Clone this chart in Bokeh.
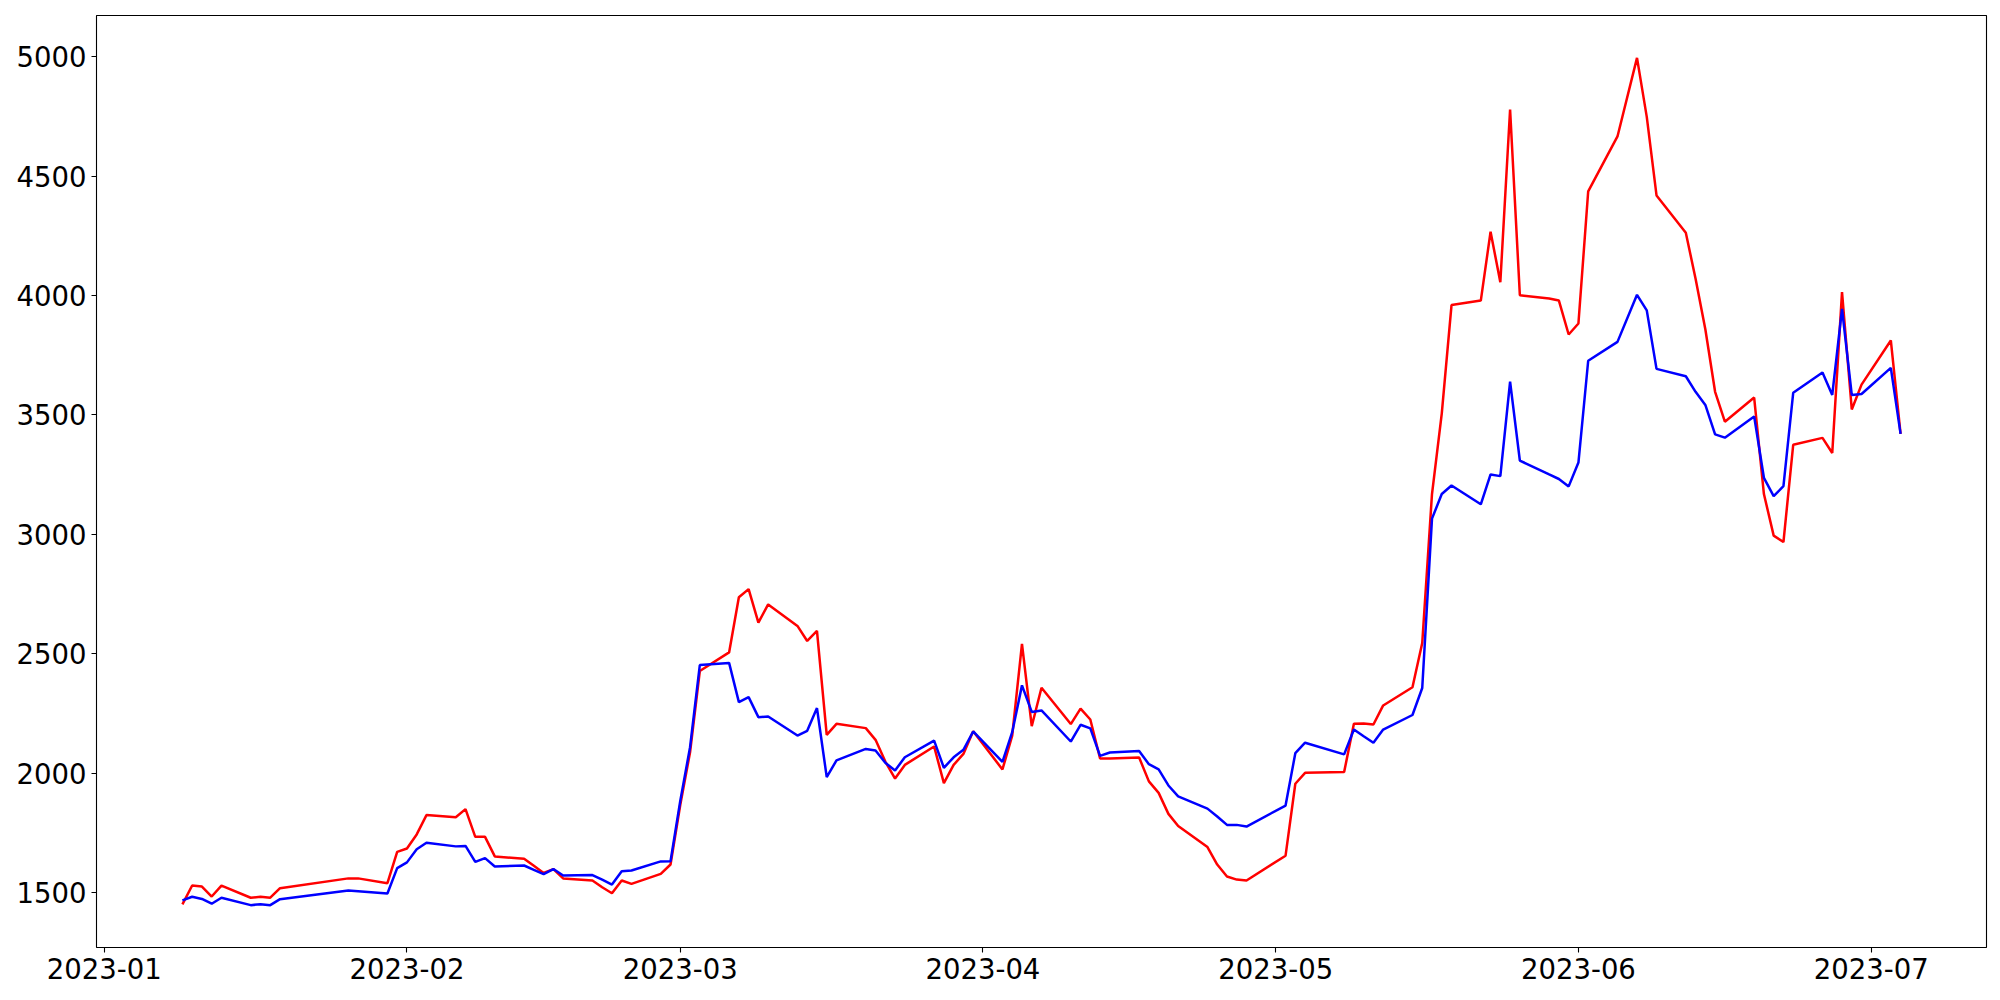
import pandas as pd
from bokeh.plotting import figure
from bokeh.models import ColumnDataSource, Range1d, FixedTicker, DatetimeTickFormatter
from bokeh.embed import file_html
from bokeh.resources import INLINE

# ---- data ----
dates = [
    # January
    "2023-01-09", "2023-01-10", "2023-01-11", "2023-01-12", "2023-01-13",
    "2023-01-16", "2023-01-17", "2023-01-18", "2023-01-19",
    "2023-01-26", "2023-01-27", "2023-01-30", "2023-01-31",
    # February
    "2023-02-01", "2023-02-02", "2023-02-03", "2023-02-06", "2023-02-07",
    "2023-02-08", "2023-02-09", "2023-02-10", "2023-02-13", "2023-02-14",
    "2023-02-15", "2023-02-16", "2023-02-17", "2023-02-20", "2023-02-21",
    "2023-02-22", "2023-02-23", "2023-02-24", "2023-02-27", "2023-02-28",
    # March
    "2023-03-01", "2023-03-02", "2023-03-03", "2023-03-06", "2023-03-07",
    "2023-03-08", "2023-03-09", "2023-03-10", "2023-03-13", "2023-03-14",
    "2023-03-15", "2023-03-16", "2023-03-17", "2023-03-20", "2023-03-21",
    "2023-03-22", "2023-03-23", "2023-03-24", "2023-03-27", "2023-03-28",
    "2023-03-29", "2023-03-30", "2023-03-31",
    # April
    "2023-04-03", "2023-04-04", "2023-04-05", "2023-04-06", "2023-04-07",
    "2023-04-10", "2023-04-11", "2023-04-12", "2023-04-13", "2023-04-14",
    "2023-04-17", "2023-04-18", "2023-04-19", "2023-04-20", "2023-04-21",
    "2023-04-24", "2023-04-25", "2023-04-26", "2023-04-27", "2023-04-28",
    # May
    "2023-05-02", "2023-05-03", "2023-05-04", "2023-05-08", "2023-05-09",
    "2023-05-10", "2023-05-11", "2023-05-12", "2023-05-15", "2023-05-16",
    "2023-05-17", "2023-05-18", "2023-05-19", "2023-05-22", "2023-05-23",
    "2023-05-24", "2023-05-25", "2023-05-26", "2023-05-29", "2023-05-30",
    "2023-05-31",
    # June
    "2023-06-01", "2023-06-02", "2023-06-05", "2023-06-07", "2023-06-08",
    "2023-06-09", "2023-06-12", "2023-06-13", "2023-06-14", "2023-06-15",
    "2023-06-16", "2023-06-19", "2023-06-20", "2023-06-21", "2023-06-22",
    "2023-06-23", "2023-06-26", "2023-06-27", "2023-06-28", "2023-06-29",
    "2023-06-30",
    # July
    "2023-07-03", "2023-07-04",
]

red_values = [
    1451, 1530, 1526, 1484, 1530, 1479, 1483, 1479, 1519, 1560, 1560, 1540, 1671,
    1685, 1744, 1825, 1816, 1850, 1734, 1734, 1652, 1642, 1613, 1583, 1599, 1560,
    1551, 1523, 1498, 1551, 1537, 1579, 1618,
    1868, 2088, 2428, 2506, 2737, 2771, 2631, 2707, 2617, 2554, 2596, 2161, 2207,
    2189, 2140, 2049, 1978, 2035, 2112, 1959, 2035, 2081, 2176,
    2016, 2158, 2542, 2197, 2358, 2206, 2271, 2225, 2062, 2062, 2066, 1966, 1918,
    1830, 1779, 1691, 1618, 1568, 1555, 1551,
    1655, 1956, 2002, 2005, 2207, 2208, 2204, 2284, 2360, 2545, 3169, 3506, 3960,
    3979, 4267, 4056, 4779, 4001, 3988, 3979, 3837,
    3883, 4436, 4666, 4995, 4748, 4419, 4263, 4070, 3859, 3597, 3472, 3573, 3169,
    2995, 2968, 3375, 3404, 3341, 4014, 3523, 3627,
    3812, 3421,
]

blue_values = [
    1468, 1483, 1474, 1454, 1479, 1448, 1452, 1448, 1473, 1509, 1506, 1497, 1603,
    1627, 1682, 1709, 1694, 1696, 1629, 1645, 1610, 1614, 1596, 1578, 1599, 1572,
    1574, 1555, 1534, 1590, 1593, 1631, 1632,
    1885, 2109, 2453, 2462, 2298, 2319, 2235, 2238, 2158, 2178, 2273, 1984, 2054,
    2102, 2095, 2044, 2012, 2067, 2137, 2023, 2067, 2098, 2175,
    2048, 2172, 2368, 2257, 2263, 2133, 2203, 2188, 2073, 2087, 2093, 2038, 2016,
    1949, 1903, 1852, 1819, 1784, 1784, 1777,
    1865, 2084, 2128, 2079, 2183, 2155, 2128, 2183, 2244, 2357, 3066, 3169, 3205,
    3126, 3251, 3244, 3640, 3309, 3251, 3232, 3201,
    3301, 3727, 3806, 4003, 3938, 3693, 3662, 3597, 3542, 3419, 3405, 3494, 3237,
    3160, 3202, 3593, 3678, 3584, 3944, 3584, 3588,
    3697, 3421,
]

y_ticks = [1500, 2000, 2500, 3000, 3500, 4000, 4500, 5000]
x_tick_dates = ["2023-01-01", "2023-02-01", "2023-03-01", "2023-04-01",
                "2023-05-01", "2023-06-01", "2023-07-01"]

assert len(dates) == len(red_values) == len(blue_values)

dt = pd.to_datetime(dates)
src = ColumnDataSource(dict(date=dt, red=red_values, blue=blue_values))

span = dt.max() - dt.min()
x_start = dt.min() - span * 0.05
x_end = dt.max() + span * 0.05
all_vals = red_values + blue_values
ymin, ymax = min(all_vals), max(all_vals)
pad = (ymax - ymin) * 0.05

p = figure(width=1992, height=992, x_axis_type="datetime",
           output_backend="svg", toolbar_location=None,
           x_range=Range1d(x_start, x_end),
           y_range=Range1d(ymin - pad, ymax + pad),
           min_border_left=96, min_border_right=6,
           min_border_top=15, min_border_bottom=45)

p.background_fill_color = "white"
p.border_fill_color = "white"
p.outline_line_color = "black"
p.outline_line_width = 1.1
p.xgrid.visible = False
p.ygrid.visible = False

p.line("date", "red", source=src, line_color="#ff0000", line_width=2.5)
p.line("date", "blue", source=src, line_color="#0000ff", line_width=2.5)

x_ticks_ms = [int(v) // 10**6 for v in pd.to_datetime(x_tick_dates).astype("int64")]
p.xaxis.ticker = FixedTicker(ticks=x_ticks_ms)
p.xaxis.formatter = DatetimeTickFormatter(days="%Y-%m", months="%Y-%m", years="%Y-%m")
p.yaxis.ticker = FixedTicker(ticks=y_ticks)

for ax in (p.xaxis, p.yaxis):
    ax.axis_line_color = None
    ax.major_tick_in = 0
    ax.major_tick_out = 5
    ax.minor_tick_in = 0
    ax.minor_tick_out = 0
    ax.major_tick_line_color = "black"
    ax.major_tick_line_width = 1.1
    ax.major_label_text_font = "DejaVu Sans"
    ax.major_label_text_font_size = "27.5px"
    ax.major_label_text_color = "black"
    ax.major_label_standoff = 5

open("out.html", "w").write(file_html(p, INLINE))
